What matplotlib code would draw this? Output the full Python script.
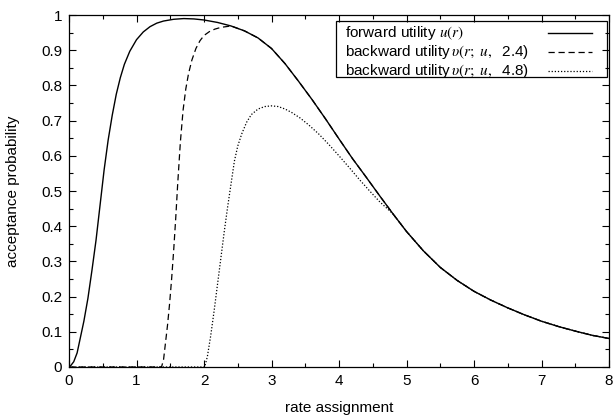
import numpy as np
import matplotlib.pyplot as plt
from matplotlib.patches import Rectangle
from matplotlib.lines import Line2D

plt.rcParams['font.family'] = ['Liberation Sans', 'DejaVu Sans']
plt.rcParams['mathtext.fontset'] = 'stix'

# forward utility u(r)
fwd_x = [0, 0.03, 0.07, 0.12, 0.17, 0.22, 0.28, 0.34, 0.40, 0.46, 0.52, 0.58, 0.64, 0.70,
         0.76, 0.82, 0.90, 1.0, 1.1, 1.2, 1.3, 1.4, 1.55, 1.7, 1.85, 2.0, 2.2, 2.4, 2.6,
         2.8, 3.0, 3.2, 3.4, 3.6, 3.8, 4.0, 4.2, 4.4, 4.6, 4.8, 5.0, 5.25, 5.5, 5.75,
         6.0, 6.25, 6.5, 6.75, 7.0, 7.25, 7.5, 7.75, 8.0]
fwd_y = [0, 0.005, 0.015, 0.04, 0.085, 0.13, 0.195, 0.275, 0.36, 0.46, 0.56, 0.645, 0.715, 0.775,
         0.822, 0.86, 0.897, 0.93, 0.952, 0.967, 0.977, 0.983, 0.988, 0.99, 0.989, 0.986, 0.979,
         0.969, 0.955, 0.935, 0.905, 0.862, 0.812, 0.76, 0.705, 0.648, 0.592, 0.54, 0.487,
         0.435, 0.385, 0.33, 0.283, 0.246, 0.215, 0.19, 0.168, 0.148, 0.13, 0.115, 0.102,
         0.09, 0.081]

# backward utility, t = 2.4 (joins u(r) near r = 2.4)
b24_x = [0, 1.37, 1.40, 1.43, 1.46, 1.49, 1.52, 1.55, 1.58, 1.61, 1.65, 1.69, 1.73, 1.77,
         1.82, 1.88, 1.94, 2.0, 2.08, 2.16, 2.25]
b24_y = [0, 0, 0.02, 0.07, 0.12, 0.18, 0.25, 0.33, 0.42, 0.52, 0.64, 0.73, 0.79, 0.833,
         0.872, 0.905, 0.927, 0.942, 0.953, 0.96, 0.965]
b24_join = 2.4

# backward utility, t = 4.8 (joins u(r) near r = 4.8)
b48_x = [0, 2.01, 2.05, 2.10, 2.15, 2.20, 2.25, 2.30, 2.35, 2.40, 2.45, 2.50, 2.56, 2.63,
         2.70, 2.80, 2.90, 3.0, 3.1, 3.2, 3.3, 3.42, 3.55, 3.7, 3.85, 4.0, 4.15, 4.3,
         4.45, 4.6]
b48_y = [0, 0, 0.03, 0.09, 0.16, 0.235, 0.31, 0.385, 0.455, 0.52, 0.585, 0.628, 0.663, 0.695,
         0.717, 0.733, 0.740, 0.742, 0.740, 0.733, 0.723, 0.708, 0.688, 0.662, 0.632, 0.600,
         0.567, 0.533, 0.501, 0.47]
b48_join = 4.8

fwd_x = np.array(fwd_x)
fwd_y = np.array(fwd_y)
tail = fwd_x >= b24_join
b24_x = np.concatenate([b24_x, fwd_x[tail]])
b24_y = np.concatenate([b24_y, fwd_y[tail]])
tail = fwd_x >= b48_join
b48_x = np.concatenate([b48_x, fwd_x[tail]])
b48_y = np.concatenate([b48_y, fwd_y[tail]])

labels = [r'forward utility $u(r)$',
          r'backward utility$\,\upsilon(r;\ u,$  2.4)',
          r'backward utility$\,\upsilon(r;\ u,$  4.8)']
styles = [dict(lw=1.0), dict(lw=0.9, dashes=(5, 3)), dict(lw=0.9, dashes=(1, 1.5))]

fig = plt.figure(figsize=(6.14, 4.16), dpi=100)
ax = fig.add_axes([0.1124, 0.1178, 0.8795, 0.846])

ax.plot(fwd_x, fwd_y, color='black', **styles[0])
ax.plot(b24_x, b24_y, color='black', **styles[1])
ax.plot(b48_x, b48_y, color='black', **styles[2])

ax.set_xlim(0, 8)
ax.set_ylim(0, 1)
ax.set_xticks(np.arange(0, 9, 1))
ax.set_xticks(np.arange(0, 8.01, 0.5), minor=True)
ax.set_yticks(np.arange(0, 1.01, 0.1))
ax.set_yticks(np.arange(0, 1.001, 0.05), minor=True)
ax.set_yticklabels(['0', '0.1', '0.2', '0.3', '0.4', '0.5', '0.6', '0.7', '0.8', '0.9', '1'])
ax.tick_params(which='both', direction='in', top=True, right=True, labelsize=11)
ax.tick_params(which='major', length=5, width=0.8, pad=5)
ax.tick_params(which='minor', length=3, width=0.8)
for s in ax.spines.values():
    s.set_linewidth(0.9)

ax.set_xlabel('rate assignment', fontsize=11)
ax.set_ylabel('acceptance probability', fontsize=11)
ax.xaxis.set_label_coords(0.5, -0.097)
ax.yaxis.set_label_coords(-0.09, 0.5)

# gnuplot-style key: text left, sample line right
ax.add_patch(Rectangle((0.494, 0.824), 0.502, 0.159, transform=ax.transAxes,
                       fill=False, edgecolor='black', lw=0.9, zorder=5))
rows = [0.949, 0.895, 0.842]
for lab, st, yy in zip(labels, styles, rows):
    ax.text(0.511, yy, lab, transform=ax.transAxes, fontsize=11, va='center', ha='left')
    ax.add_line(Line2D([0.887, 0.969], [yy, yy], transform=ax.transAxes, color='black', **st))

fig.savefig('out.png', dpi=100)
